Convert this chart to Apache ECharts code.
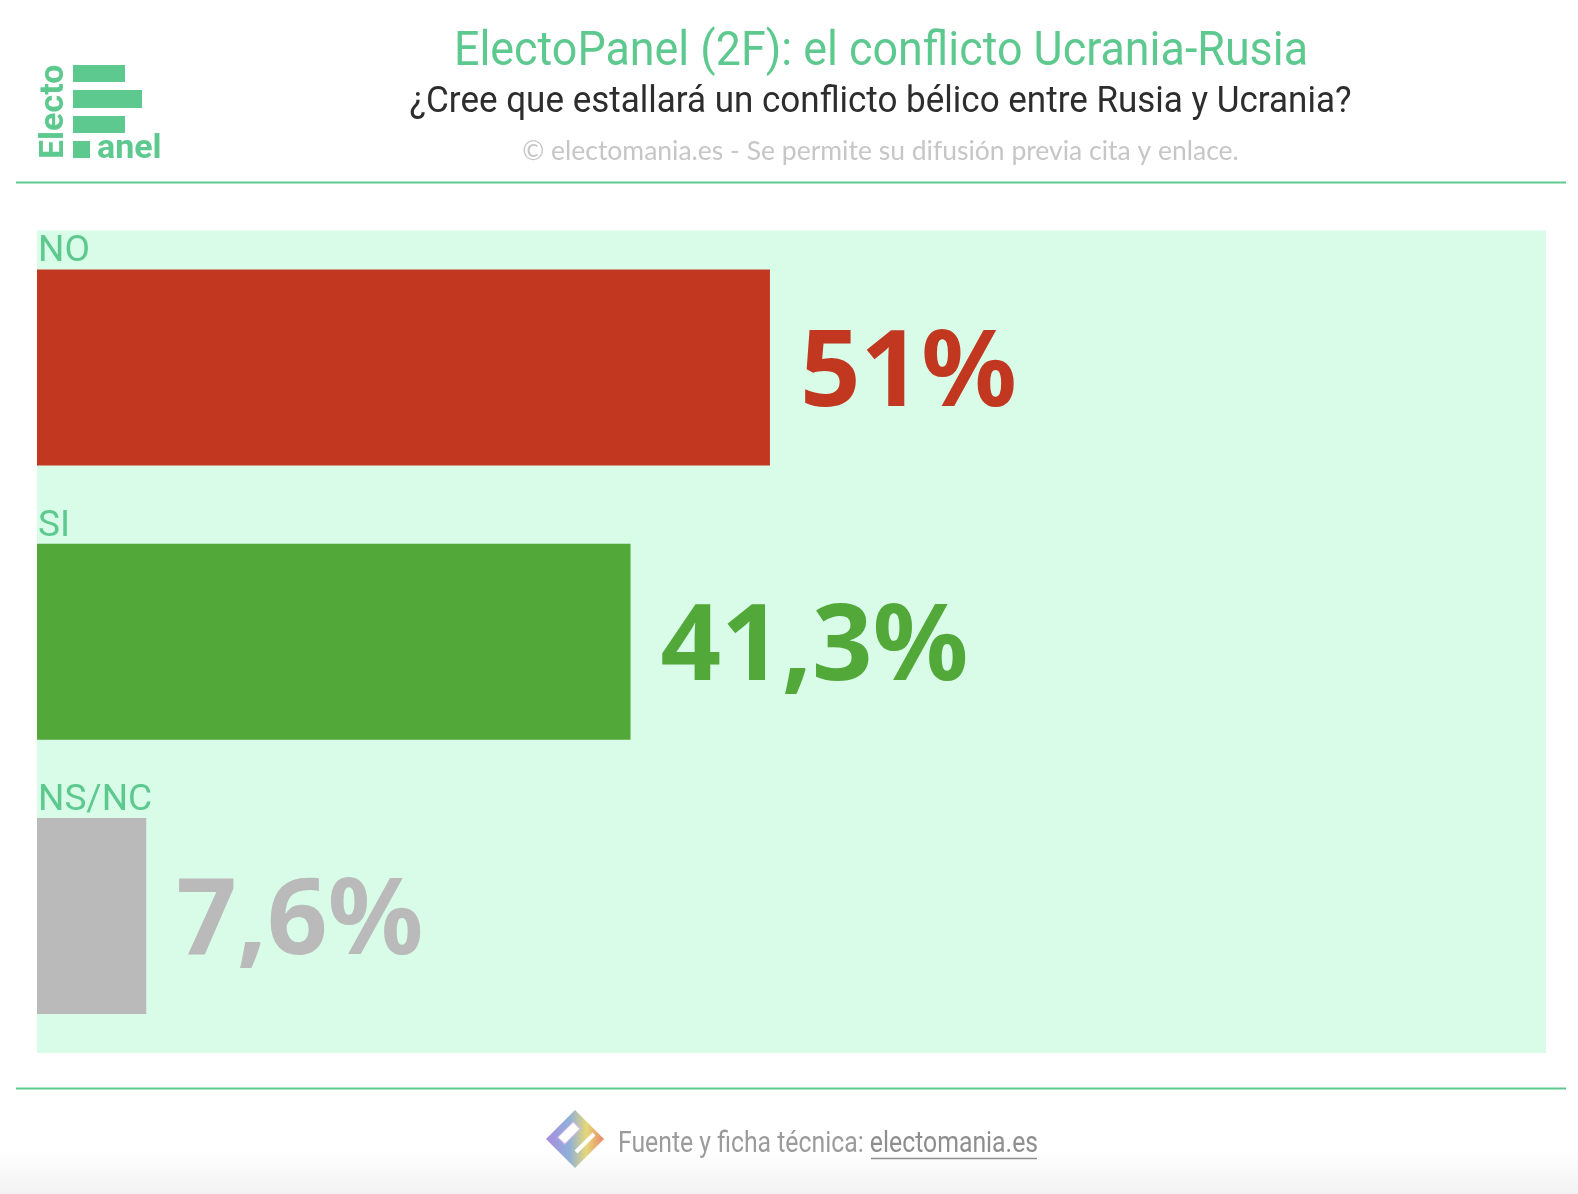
<!DOCTYPE html>
<html>
<head>
<meta charset="utf-8">
<script src="https://cdn.jsdelivr.net/npm/echarts@6/dist/echarts.min.js"></script>
<style>
html,body{margin:0;padding:0;background:#fff;}
#chart{width:1578px;height:1194px;}
</style>
</head>
<body>
<div id="chart"></div>
<script>
const categories = ['NO', 'SI', 'NS/NC'];
const values = [51, 41.3, 7.6];
const barColors = ['#c1371f', '#52a93a', '#bababa'];
const titleText = 'ElectoPanel (2F): el conflicto Ucrania-Rusia';
const subtitleText = '¿Cree que estallará un conflicto bélico entre Rusia y Ucrania?';
const copyrightText = '© electomania.es - Se permite su difusión previa cita y enlace.';

const GREEN = '#5ec98f';
const chart = echarts.init(document.getElementById('chart'));

const option = {
  backgroundColor: '#ffffff',
  animation: false,
  grid: {
    left: 37, right: 32, top: 230.5, bottom: 141,
    show: true, backgroundColor: '#d9fce9', borderWidth: 0
  },
  xAxis: {type: 'value', min: 0, max: 105, show: false},
  yAxis: {
    type: 'category', data: categories, inverse: true, show: false
  },
  series: [{
    type: 'bar',
    barWidth: 196,
    data: values.map((v, i) => ({value: v, itemStyle: {color: barColors[i]}, label: {color: barColors[i]}})),
    label: {
      show: true, position: 'right', distance: 30, offset: [0, 8],
      fontSize: 106, fontWeight: 'bold', fontFamily: '"Noto Sans"',
      formatter: p => String(p.value).replace('.', ',') + '%'
    }
  }, {
    type: 'bar',
    barWidth: 196,
    barGap: '-100%',
    silent: true,
    itemStyle: {color: 'rgba(0,0,0,0)'},
    data: values,
    label: {
      show: true, position: [1, 1], align: 'left', verticalAlign: 'bottom',
      color: GREEN, fontSize: 37, fontFamily: 'Roboto', lineHeight: 37,
      formatter: p => categories[p.dataIndex]
    }
  }],
  graphic: [
    // logo
    {type: 'rect', shape: {x: 73, y: 65, width: 52, height: 17}, style: {fill: GREEN}},
    {type: 'rect', shape: {x: 73, y: 90, width: 69, height: 18}, style: {fill: GREEN}},
    {type: 'rect', shape: {x: 73, y: 116, width: 52, height: 17}, style: {fill: GREEN}},
    {type: 'rect', shape: {x: 73, y: 141, width: 17, height: 17}, style: {fill: GREEN}},
    {type: 'text', x: 97, y: 166, style: {text: 'anel', fill: GREEN, font: 'bold 34px Roboto', textAlign: 'left', textVerticalAlign: 'bottom'}},
    {type: 'text', x: 71, y: 159, rotation: Math.PI / 2, style: {text: 'Electo', fill: GREEN, font: 'bold 34px Roboto', textAlign: 'left', textVerticalAlign: 'bottom'}},
    // titles
    {type: 'text', x: 881, y: 53, scaleX: 0.934, style: {text: titleText, fill: GREEN, font: '48px Roboto', textAlign: 'center', textVerticalAlign: 'middle'}},
    {type: 'text', x: 880.5, y: 103, scaleX: 0.946, style: {text: subtitleText, fill: '#2d2d2d', font: '37px Roboto', textAlign: 'center', textVerticalAlign: 'middle'}},
    {type: 'text', x: 880.5, y: 151, style: {text: copyrightText, fill: '#c6c6c6', font: '26.5px Lato', textAlign: 'center', textVerticalAlign: 'middle'}},
    // separator lines
    {type: 'line', shape: {x1: 16, y1: 182.5, x2: 1566, y2: 182.5}, style: {stroke: GREEN, lineWidth: 2}},
    {type: 'line', shape: {x1: 16, y1: 1088.5, x2: 1566, y2: 1088.5}, style: {stroke: GREEN, lineWidth: 2}},
    // footer gradient
    {type: 'rect', z: -10, shape: {x: 0, y: 1150, width: 1578, height: 44}, style: {fill: new echarts.graphic.LinearGradient(0, 0, 0, 1, [{offset: 0, color: '#ffffff'}, {offset: 1, color: '#f2f2f2'}])}},
    // footer icon
    {type: 'rect', x: 575, y: 1139, rotation: Math.PI / 4, shape: {x: -20.5, y: -20.5, width: 41, height: 41},
      style: {fill: new echarts.graphic.LinearGradient(0, 0, 1, 1, [{offset: 0, color: '#a98be0'}, {offset: 0.4, color: '#8fb0d8'}, {offset: 0.7, color: '#e6d77a'}, {offset: 1, color: '#e8866a'}])}},
    {type: 'rect', x: 569, y: 1133, rotation: Math.PI / 4, shape: {x: -11, y: -5, width: 22, height: 10}, style: {fill: '#ffffff', stroke: '#c9b2e8', lineWidth: 1}},
    {type: 'line', x: 575, y: 1139, shape: {x1: 1, y1: 13, x2: 19, y2: -5}, style: {stroke: '#ffffff', lineWidth: 4}},
    {type: 'text', x: 618, y: 1145, scaleX: 0.855, style: {
      text: '{a|Fuente y ficha técnica: }{b|electomania.es}',
      rich: {a: {fill: '#9b9b9b', font: '29px Roboto'}, b: {fill: '#8e8e8e', font: '29px Roboto'}},
      textAlign: 'left', textVerticalAlign: 'middle'}},
    {type: 'line', shape: {x1: 871, y1: 1158.5, x2: 1037, y2: 1158.5}, style: {stroke: '#8e8e8e', lineWidth: 1.5}}
  ]
};
chart.setOption(option);
</script>
</body>
</html>
